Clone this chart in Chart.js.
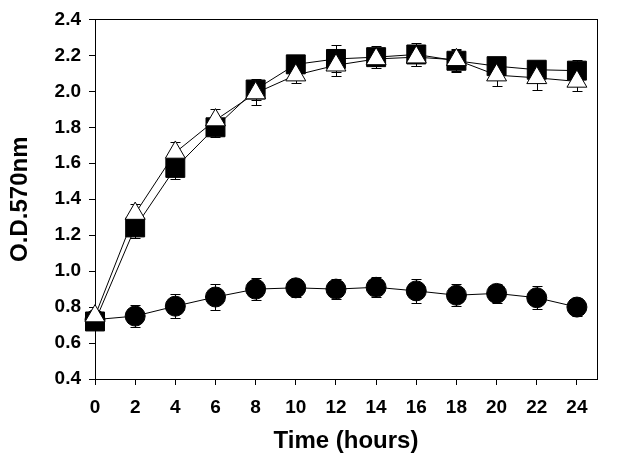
<!DOCTYPE html>
<html>
<head>
<meta charset="utf-8">
<script src="https://cdn.jsdelivr.net/npm/chart.js@4.4.0/dist/chart.umd.min.js"></script>
<style>
  html, body { margin: 0; padding: 0; background: #fff; }
</style>
</head>
<body>
<canvas id="growth-chart" width="625" height="470"></canvas>
<script>
// Sampling times (hours)
const hours = [0, 2, 4, 6, 8, 10, 12, 14, 16, 18, 20, 22, 24];

// O.D. 570nm readings
const circleOD  = [0.73, 0.75, 0.805, 0.856, 0.90, 0.907, 0.90, 0.91, 0.89, 0.866, 0.876, 0.852, 0.80];
const circleErr = [0.04, 0.06, 0.065, 0.074, 0.06, 0.05, 0.057, 0.055, 0.065, 0.06, 0.055, 0.063, 0.05];

const squareOD  = [0.72, 1.243, 1.574, 1.80, 2.01, 2.15, 2.18, 2.19, 2.205, 2.17, 2.14, 2.12, 2.115];
const squareErr = [0.03, 0.06, 0.06, 0.055, 0.06, 0.04, 0.075, 0.06, 0.065, 0.06, 0.04, 0.04, 0.06];

const triangleOD  = [0.75, 1.32, 1.66, 1.84, 1.99, 2.09, 2.145, 2.18, 2.19, 2.175, 2.09, 2.075, 2.055];
const triangleErr = [0.03, 0.055, 0.06, 0.063, 0.065, 0.045, 0.06, 0.04, 0.05, 0.06, 0.06, 0.07, 0.055];

// Axis ticks
const xTicks = [0, 2, 4, 6, 8, 10, 12, 14, 16, 18, 20, 22, 24];
const yTicks = [0.4, 0.6, 0.8, 1.0, 1.2, 1.4, 1.6, 1.8, 2.0, 2.2, 2.4];

const FONT = "'Liberation Sans', Arial, sans-serif";

function toPoints(values) {
    return hours.map((h, i) => ({ x: h, y: values[i] }));
}

// Draws the frame and the vertical error bars under the markers
const errorBars = {
    id: 'errorBars',
    beforeDatasetsDraw(chart) {
        const ctx = chart.ctx;
        const area = chart.chartArea;
        const xs = chart.scales.x;
        const ys = chart.scales.y;
        ctx.save();
        ctx.strokeStyle = '#000';
        ctx.lineWidth = 1;

        // box round the plot
        ctx.strokeRect(Math.round(area.left) + 0.5, Math.round(area.top) + 0.5,
            Math.round(area.right - area.left), Math.round(area.bottom - area.top));

        chart.data.datasets.forEach(ds => {
            ds.data.forEach((p, i) => {
                const err = ds.errors[i];
                const x = Math.round(xs.getPixelForValue(p.x)) + 0.5;
                const top = Math.round(ys.getPixelForValue(p.y + err)) + 0.5;
                const bot = Math.round(ys.getPixelForValue(p.y - err)) + 0.5;
                ctx.beginPath();
                ctx.moveTo(x, top);
                ctx.lineTo(x, bot);
                ctx.moveTo(x - 5, top);
                ctx.lineTo(x + 5, top);
                ctx.moveTo(x - 5, bot);
                ctx.lineTo(x + 5, bot);
                ctx.stroke();
            });
        });
        ctx.restore();
    }
};

const ctx = document.getElementById('growth-chart').getContext('2d');
new Chart(ctx, {
    type: 'line',
    data: {
        datasets: [{
            label: 'Circles',
            data: toPoints(circleOD),
            errors: circleErr,
            order: 3,
            borderColor: '#000',
            borderWidth: 1,
            pointStyle: 'circle',
            pointRadius: 10,
            pointBackgroundColor: '#000',
            pointBorderColor: '#000',
            pointBorderWidth: 1
        }, {
            label: 'Squares',
            data: toPoints(squareOD),
            errors: squareErr,
            order: 2,
            borderColor: '#000',
            borderWidth: 1,
            pointStyle: 'rect',
            pointRadius: 13.4,
            pointBackgroundColor: '#000',
            pointBorderColor: '#000',
            pointBorderWidth: 1
        }, {
            label: 'Triangles',
            data: toPoints(triangleOD),
            errors: triangleErr,
            order: 1,
            borderColor: '#000',
            borderWidth: 1,
            pointStyle: 'triangle',
            pointRadius: 11.5,
            pointBackgroundColor: '#fff',
            pointBorderColor: '#000',
            pointBorderWidth: 1
        }]
    },
    options: {
        responsive: false,
        animation: false,
        devicePixelRatio: 1,
        clip: false,
        layout: {
            padding: { left: 0, right: 28, top: 19, bottom: 0 }
        },
        plugins: {
            legend: { display: false },
            tooltip: { enabled: false }
        },
        elements: {
            line: { tension: 0 }
        },
        scales: {
            x: {
                type: 'linear',
                min: 0,
                max: 25,
                afterBuildTicks: s => { s.ticks = xTicks.map(v => ({ value: v })); },
                afterFit: s => { s.height = 91; },
                border: { display: false },
                grid: { drawOnChartArea: false, drawTicks: true, tickLength: 6, color: '#000' },
                ticks: {
                    color: '#000',
                    padding: 11,
                    maxRotation: 0,
                    font: { family: FONT, size: 19, weight: 'bold' }
                },
                title: {
                    display: true,
                    text: 'Time (hours)',
                    color: '#000',
                    padding: { top: 0, bottom: 14 },
                    font: { family: FONT, size: 24, weight: 'bold' }
                }
            },
            y: {
                type: 'linear',
                min: 0.4,
                max: 2.4,
                afterBuildTicks: s => { s.ticks = yTicks.map(v => ({ value: v })); },
                afterFit: s => { s.width = 95; },
                border: { display: false },
                grid: { drawOnChartArea: false, drawTicks: true, tickLength: 6, color: '#000' },
                ticks: {
                    color: '#000',
                    padding: 8,
                    callback: v => Number(v).toFixed(1),
                    font: { family: FONT, size: 19, weight: 'bold' }
                },
                title: {
                    display: true,
                    text: 'O.D.570nm',
                    color: '#000',
                    padding: { top: 6, bottom: 0 },
                    font: { family: FONT, size: 24, weight: 'bold' }
                }
            }
        }
    },
    plugins: [errorBars]
});
</script>
</body>
</html>
